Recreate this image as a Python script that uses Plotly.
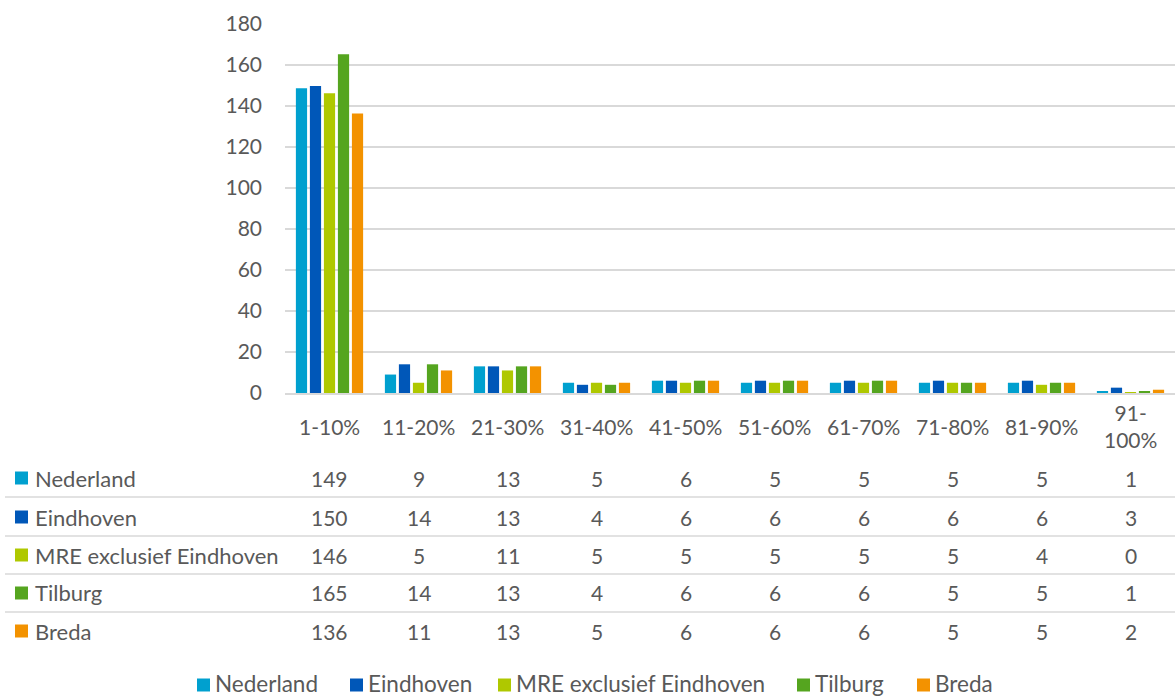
import plotly.graph_objects as go

categories = ["1-10%", "11-20%", "21-30%", "31-40%", "41-50%",
              "51-60%", "61-70%", "71-80%", "81-90%", "91-100%"]
category_labels = ["1-10%", "11-20%", "21-30%", "31-40%", "41-50%",
                   "51-60%", "61-70%", "71-80%", "81-90%", "91-<br>100%"]

series_names = ["Nederland", "Eindhoven", "MRE exclusief Eindhoven", "Tilburg", "Breda"]
nederland = [148.6, 9, 13, 5, 6, 5, 5, 5, 5, 0.6]
eindhoven = [149.7, 14, 13, 4, 6, 6, 6, 6, 6, 2.6]
mre_excl = [146.2, 5, 11, 5, 5, 5, 5, 5, 4, 0.3]
tilburg = [165.2, 14, 13, 4, 6, 6, 6, 5, 5, 0.8]
breda = [136.3, 11, 13, 5, 6, 6, 6, 5, 5, 1.6]
series_values = [nederland, eindhoven, mre_excl, tilburg, breda]
colors = ["#00A0CF", "#0057B8", "#AFC800", "#55A51F", "#F39200"]

W, H = 1175, 696
top_px, base_px, left_px = 24, 393, 285
plot_h = base_px - top_px
FONT = "Lato"
FS = 21
TXT = "#595959"
GRID = "#D9D9D9"

# layout helpers (pixel positions of table rows / legend entries)
row_y = [478, 517, 555, 593, 631]
line_y = [497, 536, 574, 612]
legend_y = 683
legend_marker_x = [197, 350, 498, 797, 917]


def py(ypix):
    return (base_px - ypix) / plot_h


fig = go.Figure()
for name, vals, col in zip(series_names, series_values, colors):
    fig.add_trace(go.Bar(x=categories, y=vals, name=name, showlegend=False,
                         marker=dict(color=col, line=dict(width=0))))

annotations = []
shapes = []
font = dict(family=FONT, size=FS, color=TXT)
label_font = dict(family=FONT, size=22, color=TXT)
legend_font = dict(family=FONT, size=22.5, color=TXT)

# category labels
for cat, lab in zip(categories, category_labels):
    annotations.append(dict(x=cat, xref="x", y=py(426), yref="paper", text=lab,
                            showarrow=False, xanchor="center", yanchor="middle",
                            font=font))

# data table
for name, vals, col, ry in zip(series_names, series_values, colors, row_y):
    shapes.append(dict(type="rect", xref="paper", yref="paper",
                       x0=15 / W, x1=28 / W, y0=py(ry - 6.5), y1=py(ry + 6.5),
                       fillcolor=col, line=dict(width=0)))
    annotations.append(dict(x=33 / W, xref="paper", y=py(ry), yref="paper", text=name,
                            showarrow=False, xanchor="left", yanchor="middle",
                            font=label_font))
    for cat, v in zip(categories, vals):
        annotations.append(dict(x=cat, xref="x", y=py(ry), yref="paper", text=f"{round(v)}",
                                showarrow=False, xanchor="center", yanchor="middle",
                                font=font))
for ly in line_y:
    shapes.append(dict(type="line", xref="paper", yref="paper",
                       x0=5 / W, x1=1.0, y0=py(ly), y1=py(ly),
                       line=dict(color=GRID, width=1.5)))

# legend
for name, col, mx in zip(series_names, colors, legend_marker_x):
    shapes.append(dict(type="rect", xref="paper", yref="paper",
                       x0=mx / W, x1=(mx + 13) / W, y0=py(legend_y + 2 - 6.5), y1=py(legend_y + 2 + 6.5),
                       fillcolor=col, line=dict(width=0)))
    annotations.append(dict(x=(mx + 16) / W, xref="paper", y=py(legend_y), yref="paper",
                            text=name, showarrow=False, xanchor="left", yanchor="middle",
                            font=legend_font))

fig.update_layout(
    width=W, height=H,
    margin=dict(l=0, r=0, t=top_px, b=H - base_px, pad=0),
    paper_bgcolor="white", plot_bgcolor="white",
    barmode="group", bargap=0.213, bargroupgap=0.2,
    font=font,
    xaxis=dict(domain=[left_px / W, 1.0], showticklabels=False, showgrid=False,
               showline=True, linecolor=GRID, linewidth=1.5, zeroline=False,
               range=[-0.5, 9.5], fixedrange=True),
    yaxis=dict(range=[0, 180], dtick=20, showgrid=True, gridcolor=GRID, gridwidth=1.5,
               zeroline=False, showline=False, ticklabelstandoff=22,
               tickfont=font, fixedrange=True),
    showlegend=False,
    annotations=annotations,
    shapes=shapes,
)

fig.write_html("out.html", config={"displayModeBar": False},
               post_script="document.body.style.margin='0';document.body.style.overflow='hidden';")
